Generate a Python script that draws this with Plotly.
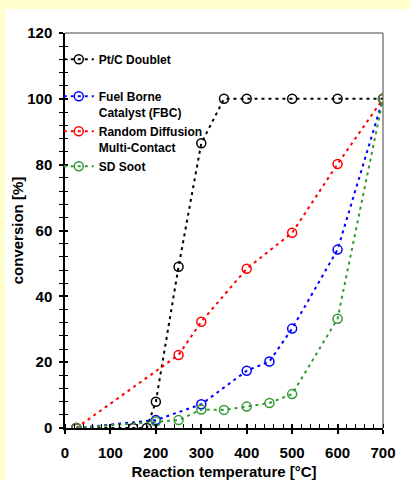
import plotly.graph_objects as go

# ---- data ----
names = ["Pt/C Doublet", "Fuel Borne<br>Catalyst (FBC)", "Random Diffusion<br>Multi-Contact", "SD Soot"]
colors = ["#000000", "#0000FF", "#FF0000", "#339933"]

pt_x = [25, 150, 180, 200, 250, 300, 350, 400, 500, 600, 700]
pt_y = [0, 0, 0, 8, 49, 86.5, 100, 100, 100, 100, 100]

fbc_x = [25, 200, 300, 400, 450, 500, 600, 700]
fbc_y = [0, 2.4, 7.2, 17.4, 20.2, 30.2, 54.2, 100]

rd_x = [25, 250, 300, 400, 500, 600, 700]
rd_y = [0, 22.2, 32.3, 48.4, 59.3, 80.2, 100]

sd_x = [25, 200, 250, 300, 350, 400, 450, 500, 600, 700]
sd_y = [0, 2.0, 2.4, 5.6, 5.5, 6.5, 7.6, 10.3, 33.2, 100]

x_ticks = [0, 100, 200, 300, 400, 500, 600, 700]
y_ticks = [0, 20, 40, 60, 80, 100, 120]

series = [(pt_x, pt_y), (fbc_x, fbc_y), (rd_x, rd_y), (sd_x, sd_y)]
legend_ids = ["legend", "legend2", "legend3", "legend4"]
legend_tops = [0.9696, 0.8759, 0.7873, 0.6987]

FONT = "Arial, 'Liberation Sans', sans-serif"

fig = go.Figure()
for (xs, ys), name, col, lg in zip(series, names, colors, legend_ids):
    fig.add_trace(go.Scatter(
        x=xs, y=ys, name=name, mode="lines+markers", legend=lg,
        line=dict(color=col, width=2, dash="3px,4px"),
        marker=dict(symbol="circle-open", size=9, color=col, line=dict(width=1.5, color=col)),
        xaxis="x", yaxis="y",
    ))

# invisible trace for overlay axes (inside ticks)
fig.add_trace(go.Scatter(x=[None], y=[None], xaxis="x2", yaxis="y2", showlegend=False, hoverinfo="skip"))

legend_common = dict(x=-0.0196, xanchor="left", yanchor="top", valign="top",
                     bgcolor="rgba(0,0,0,0)", borderwidth=0,
                     font=dict(family=FONT, size=12, weight="bold"))
legend_layout = {lg: dict(legend_common, y=yt) for lg, yt in zip(legend_ids, legend_tops)}

fig.update_layout(
    width=410, height=480,
    margin=dict(l=65, r=27, t=33, b=52, autoexpand=False),
    paper_bgcolor="#FFFFCC",
    plot_bgcolor="rgba(0,0,0,0)",
    font=dict(family=FONT, color="#000000", size=15, weight="bold"),
    showlegend=True,
    **legend_layout,
    xaxis=dict(range=[0, 700], tickvals=x_ticks, ticks="outside", ticklen=4, tickwidth=1.5,
               tickcolor="#000", showline=True, linecolor="#000", linewidth=1.5,
               showgrid=False, zeroline=False, automargin=False,
               minor=dict(ticks="inside", dtick=20, ticklen=4, tickwidth=1, tickcolor="#000", showgrid=False),
               tickfont=dict(size=15, weight="bold"),
               ticklabelstandoff=6,
               title=dict(text="Reaction temperature [°C]", font=dict(size=15, weight="bold"), standoff=12)),
    yaxis=dict(range=[0, 120], tickvals=y_ticks, ticks="outside", ticklen=4, tickwidth=1.5,
               tickcolor="#000", showline=True, linecolor="#000", linewidth=1.5,
               showgrid=False, zeroline=False, automargin=False,
               minor=dict(ticks="outside", dtick=4, ticklen=4, tickwidth=1, tickcolor="#000", showgrid=False),
               tickfont=dict(size=15, weight="bold"),
               ticklabelstandoff=4,
               title=dict(text="conversion [%]", font=dict(size=15, weight="bold"), standoff=0)),
    xaxis2=dict(range=[0, 700], overlaying="x", anchor="y2", tickvals=x_ticks, ticks="inside", ticklen=4,
                tickwidth=1.5, tickcolor="#000", showticklabels=False, showgrid=False, zeroline=False,
                showline=False, automargin=False),
    yaxis2=dict(range=[0, 120], overlaying="y", anchor="x2", tickvals=y_ticks, ticks="inside", ticklen=3,
                tickwidth=1.5, tickcolor="#000", showticklabels=False, showgrid=False, zeroline=False,
                showline=False, automargin=False,
                minor=dict(ticks="inside", dtick=4, ticklen=3, tickwidth=1, tickcolor="#000", showgrid=False)),
    shapes=[
        dict(type="rect", xref="paper", yref="paper", x0=-0.1887, x1=1.1, y0=-0.14, y1=1.0608,
             fillcolor="#FFFFFF", line=dict(width=0), layer="below"),
        dict(type="line", xref="paper", yref="paper", x0=0, x1=1, y0=1, y1=1,
             line=dict(color="#808080", width=1.5), layer="below"),
        dict(type="line", xref="paper", yref="paper", x0=1, x1=1, y0=0, y1=1,
             line=dict(color="#808080", width=1.5), layer="below"),
    ],
)

fig.write_html("out.html")
